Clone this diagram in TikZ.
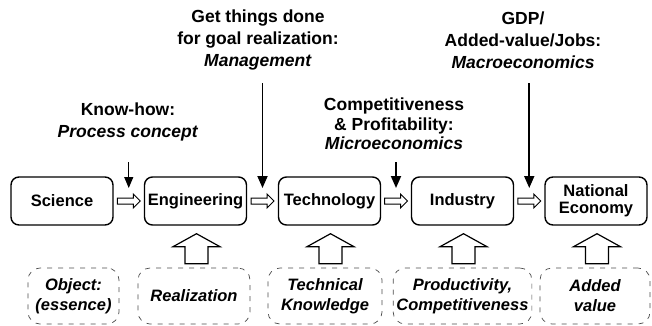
\documentclass[tikz,border=0pt]{standalone}
\usepackage{fontspec}
\setmainfont{Liberation Sans}
\usetikzlibrary{arrows.meta,calc}

\begin{document}
\begin{tikzpicture}[x=1pt,y=-1pt,
    topbox/.style={draw, line width=1.4pt, rounded corners=8pt, minimum width=102pt,
      minimum height=48pt, align=center, inner xsep=1pt,
      font=\fontsize{16.5}{17}\selectfont\bfseries},
    basebox/.style={draw=black!70, line width=0.7pt, dash pattern=on 5pt off 6pt,
      rounded corners=12pt, minimum height=56pt, align=center,
      font=\fontsize{16.5}{20}\selectfont\bfseries\itshape},
    toptext/.style={align=center, font=\fontsize{17.5}{22}\selectfont\bfseries},
    hollow/.style={draw, line width=1pt, fill=white, line join=miter},
    drop/.style={-{Triangle[length=12pt,width=10pt]}, line width=1.8pt}]
  \useasboundingbox (0,0) rectangle (652,325);

  % chain of boxes
  \node[topbox] (sci) at (62,201) {Science};
  \node[topbox] (eng) at (195.5,201) {Engineering};
  \node[topbox] (tech) at (329.5,201) {Technology};
  \node[topbox] (ind) at (462.5,201) {Industry};
  \node[topbox] (nat) at (596,201) {National\\Economy};

  % what feeds each box
  \node[basebox, minimum width=91pt] (obj) at (73.5,296) {Object:\\(essence)};
  \node[basebox, minimum width=112pt] (real) at (194,296) {Realization};
  \node[basebox, minimum width=114pt] (know) at (325,296) {Technical\\Knowledge};
  \node[basebox, minimum width=109pt] (prod) at (462.5,296) {Productivity,\\Competitiveness};
  \node[basebox, minimum width=110pt] (added) at (595,296) {Added\\value};

  % labels on top
  \node[toptext] (howto) at (128,122) {Know-how:\\\textit{Process concept}};
  \node[toptext] (mgmt) at (258,40) {Get things done\\for goal realization:\\\textit{Management}};
  \node[toptext, font=\fontsize{17.5}{19.5}\selectfont\bfseries] (micro) at (394,124)
    {Competitiveness\\\& Profitability:\\\textit{Microeconomics}};
  \node[toptext] (macro) at (523,40) {GDP/\\Added-value/Jobs:\\\textit{Macroeconomics}};

  \coordinate (d1) at ($(sci.east)!0.5!(eng.west)+(0,-13)$);
  \coordinate (d2) at ($(eng.east)!0.5!(tech.west)+(0,-13)$);
  \coordinate (d3) at ($(tech.east)!0.5!(ind.west)+(0,-13)$);
  \coordinate (d4) at ($(ind.east)!0.5!(nat.west)+(0,-13)$);

  \draw[drop, line width=1pt, -{Triangle[length=11pt,width=9pt]}] (d1 |- 0,162) -- (d1);
  \draw[drop] (d2 |- 0,83) -- (d2);
  \draw[drop] (d3 |- 0,162) -- (d3);
  \draw[drop] (d4 |- 0,83) -- (d4);

  \foreach \a/\b in {sci/eng,eng/tech,tech/ind,ind/nat}
    \draw[hollow] ($(\a.east)!0.5!(\b.west)$) ++(-11.5,-3) -- ++(16,0) -- ++(0,-4)
      -- ++(7,7) -- ++(-7,7) -- ++(0,-4) -- ++(-16,0) -- cycle;

  \foreach \b in {eng,tech,ind,nat}
    \draw[hollow, line width=1.2pt] ([xshift=1pt,yshift=-8pt]\b.south) -- ++(23.5,13)
      -- ++(-12,0) -- ++(0,17) -- ++(-23,0) -- ++(0,-17) -- ++(-12,0) -- cycle;
\end{tikzpicture}
\end{document}
